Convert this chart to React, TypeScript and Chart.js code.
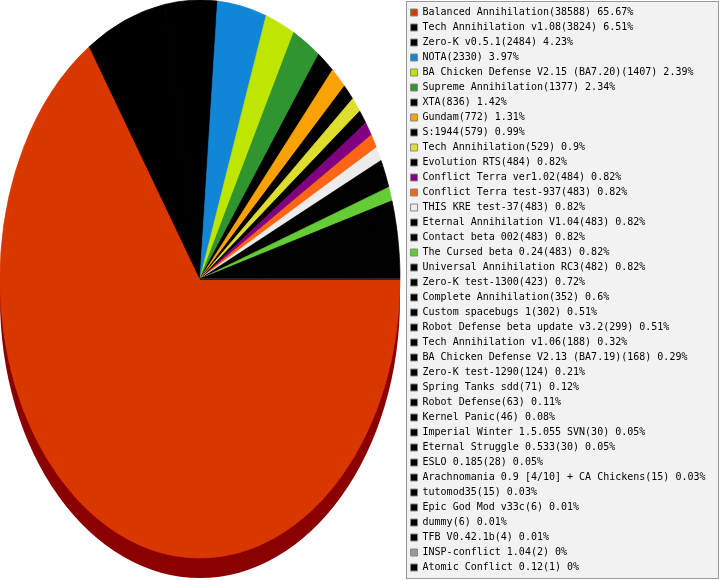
import React, { useEffect, useRef } from 'react';
import { Chart, registerables } from 'chart.js';

Chart.register(...registerables);

const names: string[] = [
  'Balanced Annihilation',
  'Tech Annihilation v1.08',
  'Zero-K v0.5.1',
  'NOTA',
  'BA Chicken Defense V2.15 (BA7.20)',
  'Supreme Annihilation',
  'XTA',
  'Gundam',
  'S:1944',
  'Tech Annihilation',
  'Evolution RTS',
  'Conflict Terra ver1.02',
  'Conflict Terra test-937',
  'THIS KRE test-37',
  'Eternal Annihilation V1.04',
  'Contact beta 002',
  'The Cursed beta 0.24',
  'Universal Annihilation RC3',
  'Zero-K test-1300',
  'Complete Annihilation',
  'Custom spacebugs 1',
  'Robot Defense beta update v3.2',
  'Tech Annihilation v1.06',
  'BA Chicken Defense V2.13 (BA7.19)',
  'Zero-K test-1290',
  'Spring Tanks sdd',
  'Robot Defense',
  'Kernel Panic',
  'Imperial Winter 1.5.055 SVN',
  'Eternal Struggle 0.533',
  'ESLO 0.185',
  'Arachnomania 0.9 [4/10] + CA Chickens',
  'tutomod35',
  'Epic God Mod v33c',
  'dummy',
  'TFB V0.42.1b',
  'INSP-conflict 1.04',
  'Atomic Conflict 0.12',
];

const values: number[] = [
  38588, 3824, 2484, 2330, 1407, 1377, 836, 772, 579, 529,
  484, 484, 483, 483, 483, 483, 483, 482, 423, 352,
  302, 299, 188, 168, 124, 71, 63, 46, 30, 30,
  28, 15, 15, 6, 6, 4, 2, 1,
];

const colors: string[] = [
  '#da3700', '#000000', '#000000', '#1186d6', '#bde600', '#309530', '#000000', '#f8a204', '#000000', '#dede2e',
  '#000000', '#800080', '#ff6614', '#ececec', '#000000', '#000000', '#64cc34', '#000000', '#000000', '#000000',
  '#000000', '#000000', '#000000', '#000000', '#000000', '#000000', '#000000', '#000000', '#000000', '#000000',
  '#000000', '#000000', '#000000', '#000000', '#000000', '#000000', '#999999', '#000000',
];

const total = values.reduce((a, b) => a + b, 0);
const percents: number[] = values.map((v) => Math.round((v / total) * 10000) / 100);
const legendTexts: string[] = names.map((n, i) => `${n}(${values[i]}) ${percents[i]}%`);

const FONT = '"DejaVu Sans Mono", monospace';
const W = 719;
const H = 580;
const CX = 200;
const CY = 279;
const RX = 200;
const RY = 279;
const DEPTH = 20;
const SHADOW = '#8b0000';

const piePlugin = {
  id: 'ellipsePie',
  beforeDraw(chart: any) {
    const { ctx } = chart;
    ctx.save();
    ctx.fillStyle = '#f2f2f2';
    ctx.strokeStyle = '#999999';
    ctx.lineWidth = 1;
    ctx.fillRect(406.5, 1.5, 312, 577);
    ctx.strokeRect(406.5, 1.5, 312, 577);
    ctx.restore();
  },
  beforeDatasetsDraw(chart: any) {
    const { ctx } = chart;
    const arc = chart.getDatasetMeta(0).data[0] as any;
    ctx.save();
    ctx.fillStyle = SHADOW;
    ctx.beginPath();
    ctx.ellipse(CX, CY + DEPTH, RX, RY, 0, 0, Math.PI * 2);
    ctx.fill();
    const r = arc.outerRadius || RX;
    ctx.translate(CX, CY);
    ctx.scale(RX / r, RY / r);
    ctx.translate(-arc.x, -arc.y);
  },
  afterDatasetsDraw(chart: any) {
    chart.ctx.restore();
  },
};

export default function App() {
  const ref = useRef<HTMLCanvasElement | null>(null);
  useEffect(() => {
    if (!ref.current) return;
    const chart = new Chart(ref.current, {
      type: 'pie',
      data: {
        labels: names,
        datasets: [
          {
            data: values,
            backgroundColor: colors,
            borderColor: colors,
            borderWidth: 0.6,
            borderJoinStyle: 'round',
            radius: RX,
          } as any,
        ],
      },
      options: {
        animation: false,
        responsive: false,
        rotation: 90,
        events: [],
        layout: { padding: { right: 3.5 } },
        plugins: {
          tooltip: { enabled: false },
          legend: {
            position: 'right',
            labels: {
              boxWidth: 7,
              boxHeight: 7,
              padding: 5,
              color: '#000000',
              font: { family: FONT, size: 10 },
              generateLabels: () =>
                legendTexts.map((t, i) => ({
                  text: t,
                  fillStyle: colors[i],
                  strokeStyle: '#888888',
                  lineWidth: 1,
                  fontColor: '#000000',
                  hidden: false,
                  index: i,
                })),
            },
          },
        },
      } as any,
      plugins: [piePlugin],
    });
    return () => chart.destroy();
  }, []);
  return (
    <div style={{ position: 'fixed', left: 0, top: 0, width: W, height: H, background: '#ffffff' }}>
      <canvas ref={ref} width={W} height={H} style={{ display: 'block', width: W, height: H }} />
    </div>
  );
}
